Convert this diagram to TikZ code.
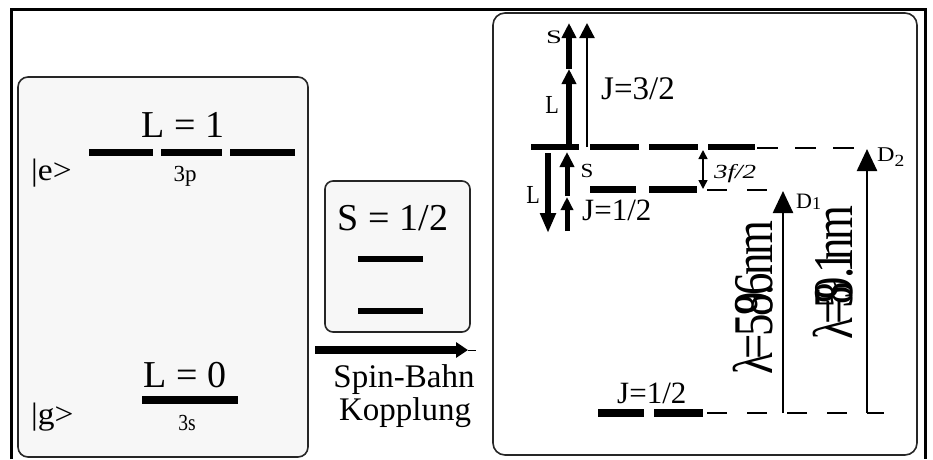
\documentclass[tikz,border=0pt]{standalone}
\usepackage{fontspec}
\setmainfont{Liberation Serif}
\usetikzlibrary{arrows.meta}
\newcommand\setfs[1]{\fontsize{#1}{#1}\selectfont}
\newcommand\wide[2]{\scalebox{#1}[1]{#2}}
\begin{document}
\begin{tikzpicture}[x=1pt,y=-1pt,
  lvl/.style={line width=7pt},
  thinlvl/.style={line width=1.5pt, dash pattern=on 20pt off 20pt},
  panel/.style={draw=black!85, line width=1.6pt, rounded corners=10pt},
  txt/.style={inner sep=0pt, anchor=base},
  vec/.style={line width=6pt, -{Triangle[length=15pt,width=14pt]}},
  jvec/.style={line width=2.2pt, -{Triangle[length=15pt,width=15pt]}},
  dline/.style={line width=2.5pt, -{Triangle[length=22pt,width=20pt]}},
  gap/.style={line width=1.5pt, {Triangle[length=9pt,width=9pt]}-{Triangle[length=9pt,width=9pt]}},
]
\useasboundingbox (0,0) rectangle (933,459);
\fill[white] (0,0) rectangle (933,459);

% outer frame
\draw[line width=3pt] (11,459) -- (11,9) -- (925,9) -- (925,459);

% panels
\draw[panel, fill=black!3] (18,77) rectangle (308,457);
\draw[panel, fill=black!3, rounded corners=8pt] (325,181) rectangle (470,332);
\draw[panel, fill=white, rounded corners=12pt] (493,13) rectangle (917,455);

% ---------- left panel: 3p and 3s terms ----------
\node[txt] (Lone) at (183,137) {\setfs{38}L = 1};
\draw[lvl] (89,152) -- (153,152);
\draw[lvl] (161,152) -- (222,152);
\draw[lvl] (230,152) -- (295,152);
\node[txt] (tp) at (185,181) {\setfs{23}3p};
\node[txt, anchor=base west] (ket e) at (31,180) {\setfs{31}\wide{1.08}{|e>}};

\node[txt] (Lzero) at (185,387) {\setfs{38}L = 0};
\draw[line width=8pt] (142,400) -- (238,400);
\node[txt] (ts) at (187,430) {\setfs{23}\wide{0.85}{3s}};
\node[txt, anchor=base west] (ket g) at (31,424) {\setfs{31}\wide{1.08}{|g>}};

% ---------- middle: spin ----------
\node[txt] (Shalf) at (393,230) {\setfs{38}S = 1/2};
\draw[line width=6pt] (358,259) -- (423,259);
\draw[line width=6pt] (358,311) -- (423,311);

\coordinate (sbA) at (315,350);
\coordinate (sbB) at (468,350);
\coordinate (sbC) at (476,350);
\draw[line width=1pt] (sbB) -- (sbC);
\draw[line width=8pt, -{Triangle[length=12pt,width=15pt]}] (sbA) -- (sbB);
\node[txt] (sb1) at (404,387) {\setfs{33}Spin-Bahn};
\node[txt] (sb2) at (405,420) {\setfs{33}Kopplung};

% ---------- right panel: fine structure ----------
% 3p J=3/2
\draw[line width=6pt] (531,147) -- (579,147);
\draw[line width=6pt] (590,147) -- (639,147);
\draw[line width=6pt] (649,147) -- (698,147);
\draw[line width=6pt] (708,147) -- (755,147);
\draw[thinlvl, dash pattern=on 21pt off 17pt] (757,148) -- (866,148);
% 3p J=1/2
\draw[lvl] (590,189) -- (636,189);
\draw[lvl] (649,189) -- (697,189);
\draw[thinlvl, dash phase=-8pt] (699,190) -- (785,190);
% 3s J=1/2
\draw[line width=8pt] (598,413) -- (644,413);
\draw[line width=8pt] (654,413) -- (703,413);
\draw[thinlvl, dash phase=-4pt] (703,413) -- (884,413);

% vector coupling, J=3/2
\coordinate (l3a) at (569,147);
\coordinate (l3b) at (569,69);
\coordinate (s3b) at (569,23);
\coordinate (j3a) at (587,147);
\coordinate (j3b) at (587,23);
\draw[vec] (l3a) -- (l3b);
\draw[vec] (l3b) -- (s3b);
\draw[jvec] (j3a) -- (j3b);
\node[txt] (S3) at (554,43) {\setfs{19}\wide{1.5}{S}};
\node[txt] (L3) at (552,113) {\setfs{26}\wide{0.85}{L}};
\node[txt, anchor=base west] (J3) at (601,99) {\setfs{33}J=3/2};

% vector coupling, J=1/2
\coordinate (l1a) at (548,153);
\coordinate (l1b) at (548,233);
\coordinate (s1a) at (567,196);
\coordinate (s1b) at (567,152);
\coordinate (j1a) at (567,231);
\coordinate (j1b) at (567,197);
\draw[vec, -{Triangle[length=20pt,width=15pt]}] (l1a) -- (l1b);
\draw[vec, line width=5pt] (s1a) -- (s1b);
\draw[vec, line width=5pt, -{Triangle[length=13pt,width=12pt]}] (j1a) -- (j1b);
\node[txt] (L1) at (533,203) {\setfs{26}\wide{0.85}{L}};
\node[txt] (S1) at (587,177) {\setfs{20}\wide{1.15}{S}};
\node[txt, anchor=base west] (J1) at (582,220) {\setfs{31}J=1/2};

% splitting 3f/2
\coordinate (fa) at (703,150);
\coordinate (fb) at (703,189);
\draw[gap] (fa) -- (fb);
\node[txt, anchor=base west] (split) at (714,178) {\setfs{20}\wide{1.35}{\itshape 3f/2}};

% ground level label
\node[txt, anchor=base west] (Jg) at (617,403) {\setfs{31}J=1/2};

% D lines
\coordinate (d1a) at (783,413);
\coordinate (d1b) at (783,191);
\coordinate (d2a) at (867,413);
\coordinate (d2b) at (867,149);
\draw[dline] (d1a) -- (d1b);
\draw[dline] (d2a) -- (d2b);
\node[txt, anchor=base west] (D1) at (796,208) {\setfs{22}D\raisebox{-1pt}{\setfs{18}1}};
\node[txt, anchor=base west] (D2) at (877,161) {\setfs{21}\wide{1.15}{D\raisebox{-5pt}{\setfs{17}2}}};

% wavelengths, set with tight, overlapping glyphs
\node[rotate=90, inner sep=0pt] (lam1) at (753,298)
  {\wide{0.8}{\setfs{56}λ\kern-8pt=\kern-3pt5\kern-3pt8\kern-25pt9\kern-4pt.\kern-15pt6\kern-3pt n\kern-3pt m}};
\node[rotate=90, inner sep=0pt] (lam2) at (833,273)
  {\wide{0.8}{\setfs{56}λ\kern-8pt=\kern-12pt5\kern-22pt8\kern-22pt9\kern-2pt.\kern-8pt1\kern-12pt n\kern-3pt m}};
\end{tikzpicture}
\end{document}
